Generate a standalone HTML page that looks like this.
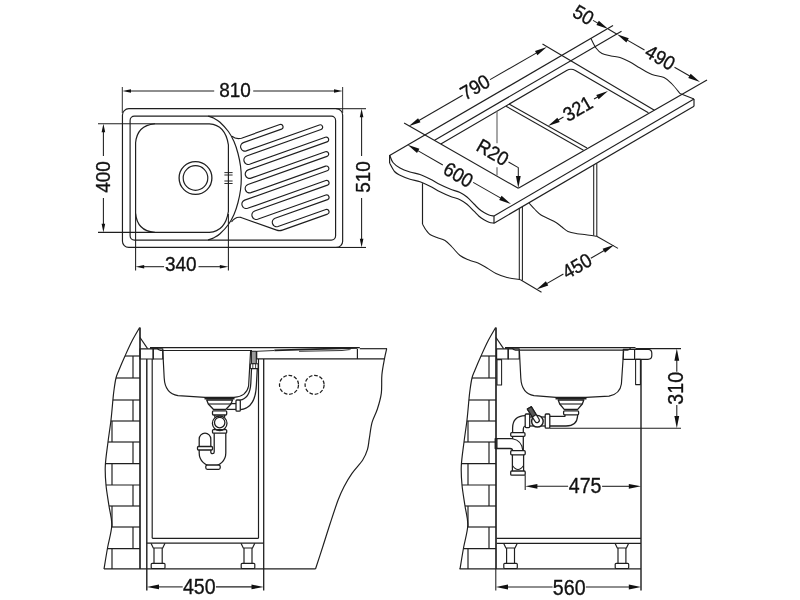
<!DOCTYPE html>
<html><head><meta charset="utf-8"><title>Sink dimensions</title>
<style>
html,body{margin:0;padding:0;background:#fff;}
body{width:800px;height:600px;overflow:hidden;font-family:"Liberation Sans",sans-serif;}
svg{display:block;filter:grayscale(1);}
svg text{font-family:"Liberation Sans",sans-serif;}
</style></head><body>
<svg width="800" height="600" viewBox="0 0 800 600" stroke-linecap="butt" stroke-linejoin="round">
<rect x="0" y="0" width="800" height="600" fill="#fff"/>
<g id="plan">
<rect x="122.45" y="108.7" width="220.2" height="138.75" rx="6.3" ry="6.3" stroke="#1f1f1f" stroke-width="1.18" fill="none"/>
<rect x="130.1" y="116.1" width="205.5" height="124" rx="4.3" ry="4.3" stroke="#1f1f1f" stroke-width="1.18" fill="none"/>
<path d="M154.6,123.8 L209.4,123.8 Q225.4,124.8 228.4,144.8 L228.4,211.4 Q225.4,231.4 209.4,232.4 L154.6,232.4 Q137.1,230.9 135.6,213.4 L135.6,142.8 Q137.1,125.3 154.6,123.8 Z" stroke="#1f1f1f" stroke-width="1.18" fill="none" />
<path d="M208,116 C209,116.38 212,117.27 214,118.3 C216,119.33 217.6,120 220,122.2 C222.4,124.4 226.07,128.28 228.4,131.5 C230.73,134.72 232.4,137.83 234,141.5 C235.6,145.17 236.92,149.42 238,153.5 C239.08,157.58 239.95,161.92 240.5,166 C241.05,170.08 241.3,174 241.3,178 C241.3,182 241.05,185.92 240.5,190 C239.95,194.08 239.08,198.42 238,202.5 C236.92,206.58 235.6,210.83 234,214.5 C232.4,218.17 230.73,221.28 228.4,224.5 C226.07,227.72 222.4,231.6 220,233.8 C217.6,236 216,236.67 214,237.7 C212,238.73 209,239.62 208,240" stroke="#1f1f1f" stroke-width="1.18" fill="none" />
<circle cx="195.5" cy="178" r="16.4" stroke="#1f1f1f" stroke-width="1.3" fill="none" />
<circle cx="195.5" cy="178" r="12.3" stroke="#1f1f1f" stroke-width="1.18" fill="none" />
<line x1="224.4" y1="172.6" x2="232.6" y2="172.6" stroke="#1f1f1f" stroke-width="0.94" />
<line x1="224.4" y1="175" x2="232.6" y2="175" stroke="#1f1f1f" stroke-width="0.94" />
<line x1="224.4" y1="181" x2="232.6" y2="181" stroke="#1f1f1f" stroke-width="0.94" />
<line x1="224.4" y1="183.5" x2="232.6" y2="183.5" stroke="#1f1f1f" stroke-width="0.94" />
<path d="M232,136.3 Q236,139.6 241.5,138.2 L279.87,124.5 A2.45,2.45 0 0 1 281.51,129.11 L243.36,142.66 A4.37,4.37 0 0 0 246.28,150.89 L319.37,124.94 A2.45,2.45 0 0 1 321.01,129.56 L246.66,155.96 A4.37,4.37 0 0 0 249.58,164.19 L325.37,137.28 A2.45,2.45 0 0 1 327.01,141.9 L248.16,169.89 A4.37,4.37 0 0 0 251.08,178.13 L325.37,151.75 A2.45,2.45 0 0 1 327.01,156.37 L247.96,184.44 A4.37,4.37 0 0 0 250.88,192.67 L325.57,166.15 A2.45,2.45 0 0 1 327.21,170.77 L244.66,200.08 A4.37,4.37 0 0 0 247.58,208.31 L325.87,180.52 A2.45,2.45 0 0 1 327.51,185.13 L254.66,211 A4.37,4.37 0 0 0 257.58,219.23 L325.87,194.99 A2.45,2.45 0 0 1 327.51,199.6 L275.06,218.23 A4.37,4.37 0 0 0 277.98,226.46 L325.87,209.46 A2.45,2.45 0 0 1 327.51,214.07 L282.33,230.11 Q279.5,231.12 276.67,230.11 L241,217.45 Q235.5,216.2 231.5,222" stroke="#1f1f1f" stroke-width="1.18" fill="none" />
<line x1="122.3" y1="87" x2="122.3" y2="113" stroke="#1f1f1f" stroke-width="0.94" />
<line x1="342.65" y1="87" x2="342.65" y2="113" stroke="#1f1f1f" stroke-width="0.94" />
<line x1="129.28" y1="91" x2="214.2" y2="91" stroke="#1f1f1f" stroke-width="1.06" />
<line x1="253.2" y1="91" x2="335.72" y2="91" stroke="#1f1f1f" stroke-width="1.06" />
<polygon points="122.4,91 131,89.2 131,92.8" fill="#111"/>
<polygon points="342.6,91 334,92.8 334,89.2" fill="#111"/>
<text transform="translate(235,91) rotate(0) scale(0.925,1)" x="0" y="6.4" text-anchor="middle" font-size="20.5" letter-spacing="0" fill="#111" stroke="#111" stroke-width="0.35">810</text>
<line x1="336" y1="108.7" x2="366" y2="108.7" stroke="#1f1f1f" stroke-width="1.06" />
<line x1="336" y1="247.45" x2="366" y2="247.45" stroke="#1f1f1f" stroke-width="1.06" />
<line x1="361.6" y1="115.58" x2="361.6" y2="156" stroke="#1f1f1f" stroke-width="1.06" />
<line x1="361.6" y1="198" x2="361.6" y2="240.57" stroke="#1f1f1f" stroke-width="1.06" />
<polygon points="361.6,108.7 363.4,117.3 359.8,117.3" fill="#111"/>
<polygon points="361.6,247.45 359.8,238.85 363.4,238.85" fill="#111"/>
<text transform="translate(363.1,177) rotate(-90) scale(0.925,1)" x="0" y="6.4" text-anchor="middle" font-size="20.5" letter-spacing="0" fill="#111" stroke="#111" stroke-width="0.35">510</text>
<line x1="98" y1="123.7" x2="155" y2="123.7" stroke="#1f1f1f" stroke-width="1.06" />
<line x1="98" y1="232.4" x2="155" y2="232.4" stroke="#1f1f1f" stroke-width="1.06" />
<line x1="103.4" y1="130.58" x2="103.4" y2="156" stroke="#1f1f1f" stroke-width="1.06" />
<line x1="103.4" y1="198" x2="103.4" y2="225.52" stroke="#1f1f1f" stroke-width="1.06" />
<polygon points="103.4,123.7 105.2,132.3 101.6,132.3" fill="#111"/>
<polygon points="103.4,232.4 101.6,223.8 105.2,223.8" fill="#111"/>
<text transform="translate(103.4,177) rotate(-90) scale(0.925,1)" x="0" y="6.4" text-anchor="middle" font-size="20.5" letter-spacing="0" fill="#111" stroke="#111" stroke-width="0.35">400</text>
<line x1="135.6" y1="214" x2="135.6" y2="270.5" stroke="#1f1f1f" stroke-width="1.06" />
<line x1="228.4" y1="214" x2="228.4" y2="270.5" stroke="#1f1f1f" stroke-width="1.06" />
<line x1="142.48" y1="266.7" x2="164.1" y2="266.7" stroke="#1f1f1f" stroke-width="1.06" />
<line x1="198.5" y1="266.7" x2="221.52" y2="266.7" stroke="#1f1f1f" stroke-width="1.06" />
<polygon points="135.6,266.7 144.2,264.9 144.2,268.5" fill="#111"/>
<polygon points="228.4,266.7 219.8,268.5 219.8,264.9" fill="#111"/>
<text transform="translate(180.7,265) rotate(0) scale(0.925,1)" x="0" y="6.4" text-anchor="middle" font-size="20.5" letter-spacing="0" fill="#111" stroke="#111" stroke-width="0.35">340</text>
</g>
<g id="iso">
<line x1="389.6" y1="155.6" x2="613" y2="25.6" stroke="#1f1f1f" stroke-width="1.18" />
<path d="M591,38.6 C591.83,40.17 594.17,45.52 596,48 C597.83,50.48 599.5,52.17 602,53.5 C604.5,54.83 608,55.33 611,56 C614,56.67 616.83,56.5 620,57.5 C623.17,58.5 626.67,60.25 630,62 C633.33,63.75 636.33,65.92 640,68 C643.67,70.08 648,72.92 652,74.5 C656,76.08 660.67,75.92 664,77.5 C667.33,79.08 669.33,81.33 672,84 C674.67,86.67 678.67,91.92 680,93.5 L694,99" stroke="#1f1f1f" stroke-width="1.06" fill="none" />
<line x1="694" y1="99" x2="694" y2="106.3" stroke="#1f1f1f" stroke-width="1.18" />
<line x1="694" y1="99" x2="494" y2="216" stroke="#1f1f1f" stroke-width="1.18" />
<line x1="694" y1="106.3" x2="494" y2="223.2" stroke="#1f1f1f" stroke-width="1.18" />
<line x1="494" y1="216" x2="494" y2="223.2" stroke="#1f1f1f" stroke-width="1.18" />
<path d="M389.6,155 C390.17,156.25 391.27,160.33 393,162.5 C394.73,164.67 397.17,166.42 400,168 C402.83,169.58 406.67,170.92 410,172 C413.33,173.08 416.67,173.33 420,174.5 C423.33,175.67 426.67,177.33 430,179 C433.33,180.67 436.67,182.83 440,184.5 C443.33,186.17 446.67,187.67 450,189 C453.33,190.33 457.17,191.17 460,192.5 C462.83,193.83 464.67,195.08 467,197 C469.33,198.92 472,202 474,204 C476,206 477.33,207.58 479,209 C480.67,210.42 482.33,211.5 484,212.5 C485.67,213.5 487.33,214.42 489,215 C490.67,215.58 493.17,215.83 494,216" stroke="#1f1f1f" stroke-width="1.18" fill="none" />
<path d="M389.6,155 L389.6,163" stroke="#1f1f1f" stroke-width="1.18" fill="none" />
<path d="M389.6,163 C390.42,164.42 392.77,169.47 394.5,171.5 C396.23,173.53 397.42,173.92 400,175.2 C402.58,176.48 406.67,178.12 410,179.2 C413.33,180.28 416.67,180.53 420,181.7 C423.33,182.87 426.67,184.53 430,186.2 C433.33,187.87 436.67,190.03 440,191.7 C443.33,193.37 446.67,194.87 450,196.2 C453.33,197.53 457.17,198.37 460,199.7 C462.83,201.03 464.67,202.28 467,204.2 C469.33,206.12 472,209.2 474,211.2 C476,213.2 477.33,214.78 479,216.2 C480.67,217.62 482.33,218.7 484,219.7 C485.67,220.7 487.33,221.62 489,222.2 C490.67,222.78 493.17,223.03 494,223.2" stroke="#1f1f1f" stroke-width="1.18" fill="none" />
<line x1="404.1" y1="123.1" x2="518.3" y2="188.3" stroke="#1f1f1f" stroke-width="1.18" />
<line x1="434.6" y1="140.2" x2="621.5" y2="31.3" stroke="#1f1f1f" stroke-width="1.18" />
<line x1="542.5" y1="44" x2="654.4" y2="110.3" stroke="#1f1f1f" stroke-width="1.18" />
<line x1="518.3" y1="188.3" x2="707" y2="79.9" stroke="#1f1f1f" stroke-width="1.18" />
<path d="M440.8,144.1 L566.67,70.5 Q571,68 575.33,70.5 L648.4,112.8" stroke="#1f1f1f" stroke-width="1.18" fill="none" />
<line x1="509" y1="104" x2="587" y2="148" stroke="#1f1f1f" stroke-width="1.06" />
<line x1="506" y1="106.2" x2="583.5" y2="150.2" stroke="#1f1f1f" stroke-width="1.06" />
<line x1="497" y1="110.8" x2="497" y2="143.2" stroke="#6a6a6a" stroke-width="1.18" />
<line x1="497" y1="167.2" x2="497" y2="175.5" stroke="#6a6a6a" stroke-width="1.18" />
<line x1="422.5" y1="183.2" x2="422.5" y2="224" stroke="#1f1f1f" stroke-width="1.18" />
<path d="M422.5,224 C423.08,225 424.75,228.25 426,230 C427.25,231.75 428.17,233.25 430,234.5 C431.83,235.75 434.5,236.5 437,237.5 C439.5,238.5 442.5,238.92 445,240.5 C447.5,242.08 449.5,244.5 452,247 C454.5,249.5 457.17,253.33 460,255.5 C462.83,257.67 466,258.75 469,260 C472,261.25 475,261.67 478,263 C481,264.33 484,266.25 487,268 C490,269.75 492.67,271.92 496,273.5 C499.33,275.08 502.92,276.47 507,277.5 C511.08,278.53 518.25,279.33 520.5,279.7" stroke="#1f1f1f" stroke-width="1.06" fill="none" />
<line x1="519.3" y1="208.5" x2="519.3" y2="279.5" stroke="#1f1f1f" stroke-width="1.06" />
<line x1="522.4" y1="206.6" x2="522.4" y2="280.5" stroke="#1f1f1f" stroke-width="1.06" />
<path d="M529,203 C530,204.08 533,207.5 535,209.5 C537,211.5 538.83,213.5 541,215 C543.17,216.5 545.5,217.25 548,218.5 C550.5,219.75 553.67,221.08 556,222.5 C558.33,223.92 560,225.5 562,227 C564,228.5 565.5,230.38 568,231.5 C570.5,232.62 574,233.17 577,233.7 C580,234.23 582.72,234.28 586,234.7 C589.28,235.12 594.92,235.95 596.7,236.2" stroke="#1f1f1f" stroke-width="1.06" fill="none" />
<line x1="593.7" y1="165" x2="593.7" y2="235.6" stroke="#1f1f1f" stroke-width="1.06" />
<line x1="596.8" y1="163.2" x2="596.8" y2="236.4" stroke="#1f1f1f" stroke-width="1.06" />
<line x1="417.16" y1="121.44" x2="462.63" y2="95.33" stroke="#1f1f1f" stroke-width="1.06" />
<line x1="490.03" y1="79.6" x2="538.34" y2="51.86" stroke="#1f1f1f" stroke-width="1.06" />
<polygon points="408.7,126.3 418.08,118.14 420.47,122.31" fill="#111"/>
<polygon points="546.8,47 537.42,55.16 535.03,50.99" fill="#111"/>
<text transform="translate(475.2,87.5) rotate(-30) scale(0.925,1)" x="0" y="6.4" text-anchor="middle" font-size="19.8" letter-spacing="0" fill="#111" stroke="#111" stroke-width="0.35">790</text>
<line x1="593" y1="20.4" x2="603" y2="26.1" stroke="#1f1f1f" stroke-width="1.06" />
<polygon points="608.2,29 596.43,24.98 598.83,20.82" fill="#111"/>
<text transform="translate(583.2,15.2) rotate(30) scale(0.925,1)" x="0" y="6.4" text-anchor="middle" font-size="19.8" letter-spacing="0" fill="#111" stroke="#111" stroke-width="0.35">50</text>
<polygon points="617,34.2 628.77,38.22 626.37,42.38" fill="#111"/>
<line x1="608.2" y1="29" x2="617" y2="34.2" stroke="#1f1f1f" stroke-width="1.06" />
<line x1="626" y1="39.4" x2="644.5" y2="50" stroke="#1f1f1f" stroke-width="1.06" />
<text transform="translate(660,57.9) rotate(30) scale(0.925,1)" x="0" y="6.4" text-anchor="middle" font-size="19.8" letter-spacing="0" fill="#111" stroke="#111" stroke-width="0.35">490</text>
<line x1="674.5" y1="67.2" x2="691" y2="76.7" stroke="#1f1f1f" stroke-width="1.06" />
<polygon points="700,81.9 688.23,77.88 690.63,73.72" fill="#111"/>
<line x1="416.07" y1="149.65" x2="442.8" y2="164.95" stroke="#1f1f1f" stroke-width="1.06" />
<line x1="473.17" y1="182.34" x2="502.53" y2="199.15" stroke="#1f1f1f" stroke-width="1.06" />
<polygon points="407.6,144.8 419.38,148.78 417,152.94" fill="#111"/>
<polygon points="511,204 499.22,200.02 501.6,195.86" fill="#111"/>
<text transform="translate(458.1,175.2) rotate(30) scale(0.925,1)" x="0" y="6.4" text-anchor="middle" font-size="19.8" letter-spacing="0" fill="#111" stroke="#111" stroke-width="0.35">600</text>
<text transform="translate(492.5,152.6) rotate(30) scale(0.925,1)" x="0" y="6.4" text-anchor="middle" font-size="19.6" letter-spacing="0" fill="#111" stroke="#111" stroke-width="0.35">R20</text>
<path d="M508.5,162 L518.3,167.6 L518.3,179" stroke="#1f1f1f" stroke-width="1.06" fill="none" />
<polygon points="518.3,188.1 515.9,175.9 520.7,175.9" fill="#111"/>
<polygon points="608,91 598.63,99.18 596.23,95.02" fill="#111"/>
<line x1="594" y1="99" x2="599" y2="96.2" stroke="#1f1f1f" stroke-width="1.06" />
<polygon points="548,126 557.37,117.82 559.77,121.98" fill="#111"/>
<line x1="557" y1="120.8" x2="563.5" y2="117" stroke="#1f1f1f" stroke-width="1.06" />
<text transform="translate(578,109) rotate(-30) scale(0.925,1)" x="0" y="6.4" text-anchor="middle" font-size="19.8" letter-spacing="0" fill="#111" stroke="#111" stroke-width="0.35">321</text>
<line x1="520.5" y1="279.7" x2="541.5" y2="292.2" stroke="#1f1f1f" stroke-width="1.06" />
<line x1="596.7" y1="236.2" x2="618" y2="248.4" stroke="#1f1f1f" stroke-width="1.06" />
<line x1="544.96" y1="284.63" x2="563.41" y2="274.02" stroke="#1f1f1f" stroke-width="1.06" />
<line x1="590.81" y1="258.27" x2="605.94" y2="249.57" stroke="#1f1f1f" stroke-width="1.06" />
<polygon points="536.5,289.5 545.88,281.34 548.27,285.5" fill="#111"/>
<polygon points="614.4,244.7 605.02,252.86 602.63,248.7" fill="#111"/>
<text transform="translate(577.2,266.3) rotate(-30) scale(0.925,1)" x="0" y="6.4" text-anchor="middle" font-size="19.8" letter-spacing="0" fill="#111" stroke="#111" stroke-width="0.35">450</text>
</g>
<g id="bl">
<line x1="140" y1="327.6" x2="140" y2="569" stroke="#1f1f1f" stroke-width="1.65" />
<path d="M139.6,327.6 C138.33,329.83 134.43,336.27 132,341 C129.57,345.73 127.17,351.17 125,356 C122.83,360.83 120.5,366.33 119,370 C117.5,373.67 116.83,374.67 116,378 C115.17,381.33 114.5,386.5 114,390 C113.5,393.5 113.5,394 113,399 C112.5,404 111.83,412.83 111,420 C110.17,427.17 108.95,434.33 108,442 C107.05,449.67 105.63,458.83 105.3,466 C104.97,473.17 105.38,478.33 106,485 C106.62,491.67 108.03,499.33 109,506 C109.97,512.67 112.03,518.08 111.8,525 C111.57,531.92 108.9,540.17 107.6,547.5 C106.3,554.83 104.6,565.42 104,569" stroke="#1f1f1f" stroke-width="1.18" fill="none" />
<line x1="125" y1="356" x2="140" y2="356" stroke="#1f1f1f" stroke-width="1.18" />
<line x1="116" y1="378" x2="140" y2="378" stroke="#1f1f1f" stroke-width="1.18" />
<line x1="112.9" y1="400" x2="140" y2="400" stroke="#1f1f1f" stroke-width="1.18" />
<line x1="110.86" y1="421" x2="140" y2="421" stroke="#1f1f1f" stroke-width="1.18" />
<line x1="108" y1="442" x2="140" y2="442" stroke="#1f1f1f" stroke-width="1.18" />
<line x1="105.57" y1="463.6" x2="140" y2="463.6" stroke="#1f1f1f" stroke-width="1.18" />
<line x1="106" y1="485" x2="140" y2="485" stroke="#1f1f1f" stroke-width="1.18" />
<line x1="109" y1="506" x2="140" y2="506" stroke="#1f1f1f" stroke-width="1.18" />
<line x1="111.43" y1="527" x2="140" y2="527" stroke="#1f1f1f" stroke-width="1.18" />
<line x1="107.42" y1="548.6" x2="140" y2="548.6" stroke="#1f1f1f" stroke-width="1.18" />
<line x1="133" y1="356" x2="133" y2="378" stroke="#1f1f1f" stroke-width="1.18" />
<line x1="133" y1="400" x2="133" y2="421" stroke="#1f1f1f" stroke-width="1.18" />
<line x1="112" y1="421" x2="112" y2="442" stroke="#1f1f1f" stroke-width="1.18" />
<line x1="133" y1="442" x2="133" y2="463.6" stroke="#1f1f1f" stroke-width="1.18" />
<line x1="112" y1="463.6" x2="112" y2="485" stroke="#1f1f1f" stroke-width="1.18" />
<line x1="133" y1="485" x2="133" y2="506" stroke="#1f1f1f" stroke-width="1.18" />
<line x1="112" y1="506" x2="112" y2="527" stroke="#1f1f1f" stroke-width="1.18" />
<line x1="133" y1="527" x2="133" y2="548.6" stroke="#1f1f1f" stroke-width="1.18" />
<line x1="112" y1="548.6" x2="112" y2="569" stroke="#1f1f1f" stroke-width="1.18" />
<line x1="140" y1="337.5" x2="147.6" y2="348.6" stroke="#1f1f1f" stroke-width="1.18" />
<line x1="104" y1="568.8" x2="315.5" y2="568.8" stroke="#1f1f1f" stroke-width="1.18" />
<rect x="140" y="348.8" width="13.2" height="10.2" rx="0" ry="0" stroke="#1f1f1f" stroke-width="1.18" fill="none"/>
<rect x="153.2" y="348.8" width="9.6" height="10.2" rx="0" ry="0" stroke="#1f1f1f" stroke-width="1.18" fill="none"/>
<path d="M150,347.6 L359.8,347.6" stroke="#1f1f1f" stroke-width="1.3" fill="none" />
<path d="M150,347.6 L157,347.9 Q158.5,350.3 160.5,350.5 L252,350.5" stroke="#1f1f1f" stroke-width="1.18" fill="none" />
<line x1="150" y1="347.9" x2="157" y2="347.9" stroke="#1f1f1f" stroke-width="1.65" />
<path d="M162.8,351 L164.2,378 Q165,393.5 178,395.6 L205,397.4 L234,397.4 Q246.5,396.5 248.6,386 L250.6,351" stroke="#1f1f1f" stroke-width="1.18" fill="none" />
<path d="M251.5,368.6 L250.8,383.5 Q250,398.5 239.8,400.2" stroke="#1f1f1f" stroke-width="1.27" fill="none" />
<path d="M257.3,368.6 L256.4,385 Q255.5,408 240.6,409.6" stroke="#1f1f1f" stroke-width="1.27" fill="none" />
<rect x="251.4" y="351.2" width="4.9" height="12.4" rx="0" ry="0" stroke="#1f1f1f" stroke-width="1.06" fill="#9a9a9a"/>
<rect x="250.3" y="363.8" width="7.9" height="4.8" rx="0.8" ry="0.8" stroke="#1f1f1f" stroke-width="1.12" fill="#fff"/>
<line x1="252.8" y1="364" x2="252.8" y2="368.4" stroke="#1f1f1f" stroke-width="0.83" />
<line x1="255.6" y1="364" x2="255.6" y2="368.4" stroke="#1f1f1f" stroke-width="0.83" />
<rect x="236" y="400" width="4.3" height="11.2" rx="1" ry="1" stroke="#1f1f1f" stroke-width="1.27" fill="none"/>
<line x1="230.5" y1="403.6" x2="236" y2="403.6" stroke="#1f1f1f" stroke-width="1.27" />
<line x1="227" y1="409.4" x2="236" y2="409.4" stroke="#1f1f1f" stroke-width="1.27" />
<line x1="204.5" y1="398.3" x2="234.5" y2="398.3" stroke="#1f1f1f" stroke-width="2.36" />
<path d="M206.7,400 L232.5,400 L231,404 L226,409.3 L213.3,409.3 L208.3,404 Z" stroke="#1f1f1f" stroke-width="1.27" fill="none" />
<line x1="208.3" y1="404" x2="231" y2="404" stroke="#1f1f1f" stroke-width="1.12" />
<rect x="212.5" y="410.8" width="14.2" height="4.2" rx="1" ry="1" stroke="#1f1f1f" stroke-width="1.27" fill="none"/>
<path d="M214.8,415 L214.8,417.5 M224.6,415 L224.6,417.5" stroke="#1f1f1f" stroke-width="1.27" fill="none" />
<circle cx="219.7" cy="423.3" r="7.3" stroke="#1f1f1f" stroke-width="1.27" fill="none" />
<circle cx="219.7" cy="422.6" r="5.2" stroke="#1f1f1f" stroke-width="1.27" fill="none" />
<rect x="212.5" y="429.6" width="14.2" height="3.6" rx="1" ry="1" stroke="#1f1f1f" stroke-width="1.27" fill="none"/>
<path d="M225.8,433.2 L225.8,453 A13.3,13.3 0 0 1 199.2,453 L199.2,439 A5.8,5.8 0 0 1 210.8,439 L210.8,452 A1.7,1.7 0 0 0 214.2,452 L214.2,433.2" stroke="#1f1f1f" stroke-width="1.27" fill="none" />
<rect x="197.5" y="446.5" width="15" height="3.5" rx="1" ry="1" stroke="#1f1f1f" stroke-width="1.27" fill="#fff"/>
<rect x="205.8" y="465" width="14.4" height="4.3" rx="1.5" ry="1.5" stroke="#1f1f1f" stroke-width="1.27" fill="#fff"/>
<line x1="146.8" y1="359" x2="146.8" y2="590.5" stroke="#1f1f1f" stroke-width="1.42" />
<line x1="152.2" y1="359" x2="152.2" y2="538.3" stroke="#1f1f1f" stroke-width="1.18" />
<line x1="258.5" y1="359" x2="258.5" y2="538.3" stroke="#1f1f1f" stroke-width="1.18" />
<line x1="263.7" y1="359" x2="263.7" y2="590.5" stroke="#1f1f1f" stroke-width="1.3" />
<line x1="152.2" y1="538.3" x2="258.5" y2="538.3" stroke="#1f1f1f" stroke-width="1.18" />
<line x1="146.8" y1="543.2" x2="263.7" y2="543.2" stroke="#1f1f1f" stroke-width="1.18" />
<path d="M151,543.3 L153.3,548 L162.7,548 L165,543.3" stroke="#1f1f1f" stroke-width="1.18" fill="none" />
<line x1="154" y1="548" x2="154" y2="563.3" stroke="#1f1f1f" stroke-width="1.18" />
<line x1="162.2" y1="548" x2="162.2" y2="563.3" stroke="#1f1f1f" stroke-width="1.18" />
<rect x="151.2" y="563.3" width="13.8" height="5.2" rx="1" ry="1" stroke="#1f1f1f" stroke-width="1.18" fill="none"/>
<path d="M241,543.3 L243.3,548 L252.5,548 L254.8,543.3" stroke="#1f1f1f" stroke-width="1.18" fill="none" />
<line x1="244" y1="548" x2="244" y2="563.3" stroke="#1f1f1f" stroke-width="1.18" />
<line x1="252" y1="548" x2="252" y2="563.3" stroke="#1f1f1f" stroke-width="1.18" />
<rect x="241.2" y="563.3" width="13.6" height="5.2" rx="1" ry="1" stroke="#1f1f1f" stroke-width="1.18" fill="none"/>
<path d="M256.7,351 L256.7,358.9 L384.8,358.9" stroke="#1f1f1f" stroke-width="1.18" fill="none" />
<line x1="359.8" y1="348.7" x2="387" y2="348.7" stroke="#1f1f1f" stroke-width="1.18" />
<line x1="357.4" y1="348.7" x2="357.4" y2="358.9" stroke="#1f1f1f" stroke-width="1.18" />
<path d="M256.6,351.3 L274.4,350.5" stroke="#1f1f1f" stroke-width="0.94" fill="none" />
<line x1="274.4" y1="350.45" x2="357.2" y2="347.95" stroke="#1f1f1f" stroke-width="1.83" />
<line x1="299" y1="351.3" x2="342" y2="350.5" stroke="#1f1f1f" stroke-width="0.89" />
<path d="M342,350.5 L349.5,349.6 L351,348.6" stroke="#1f1f1f" stroke-width="0.89" fill="none" />
<path d="M386.7,348.7 C386.33,350.37 385.3,354.37 384.5,358.7 C383.7,363.03 382.43,368.93 381.9,374.7 C381.37,380.47 382.07,387.53 381.3,393.3 C380.53,399.07 378.85,404.4 377.3,409.3 C375.75,414.2 373.33,417.8 372,422.7 C370.67,427.6 370.05,434.27 369.3,438.7 C368.55,443.13 368.6,445.75 367.5,449.3 C366.4,452.85 365.28,456 362.7,460 C360.12,464 355.12,468.85 352,473.3 C348.88,477.75 346.32,482.25 344,486.7 C341.68,491.15 340.43,493.78 338.1,500 C335.77,506.22 332.52,516.33 330,524 C327.48,531.67 325.42,538.5 323,546 C320.58,553.5 316.75,565.17 315.5,569" stroke="#1f1f1f" stroke-width="1.18" fill="none" />
<circle cx="289" cy="384.8" r="9.5" stroke="#1f1f1f" stroke-width="1.24" fill="none" stroke-dasharray="3.7 1.8"/>
<circle cx="314.6" cy="384.8" r="9.5" stroke="#1f1f1f" stroke-width="1.24" fill="none" stroke-dasharray="3.7 1.8"/>
<line x1="156.56" y1="586.9" x2="182.7" y2="586.9" stroke="#1f1f1f" stroke-width="1.06" />
<line x1="215.9" y1="586.9" x2="253.94" y2="586.9" stroke="#1f1f1f" stroke-width="1.06" />
<polygon points="146.8,586.9 159,584.5 159,589.3" fill="#111"/>
<polygon points="263.7,586.9 251.5,589.3 251.5,584.5" fill="#111"/>
<text transform="translate(199.3,587.8) rotate(0) scale(0.925,1)" x="0" y="6.4" text-anchor="middle" font-size="21.2" letter-spacing="0" fill="#111" stroke="#111" stroke-width="0.35">450</text>
</g>
<g id="br">
<line x1="496" y1="327.6" x2="496" y2="569" stroke="#1f1f1f" stroke-width="1.65" />
<path d="M495.6,327.6 C494.33,329.83 490.43,336.27 488,341 C485.57,345.73 483.17,351.17 481,356 C478.83,360.83 476.5,366.33 475,370 C473.5,373.67 472.83,374.67 472,378 C471.17,381.33 470.5,386.5 470,390 C469.5,393.5 469.5,394 469,399 C468.5,404 467.83,412.83 467,420 C466.17,427.17 464.95,434.33 464,442 C463.05,449.67 461.63,458.83 461.3,466 C460.97,473.17 461.38,478.33 462,485 C462.62,491.67 464.03,499.33 465,506 C465.97,512.67 468.03,518.08 467.8,525 C467.57,531.92 464.9,540.17 463.6,547.5 C462.3,554.83 460.6,565.42 460,569" stroke="#1f1f1f" stroke-width="1.18" fill="none" />
<line x1="481" y1="356" x2="496" y2="356" stroke="#1f1f1f" stroke-width="1.18" />
<line x1="472" y1="378" x2="496" y2="378" stroke="#1f1f1f" stroke-width="1.18" />
<line x1="468.9" y1="400" x2="496" y2="400" stroke="#1f1f1f" stroke-width="1.18" />
<line x1="466.86" y1="421" x2="496" y2="421" stroke="#1f1f1f" stroke-width="1.18" />
<line x1="464" y1="442" x2="496" y2="442" stroke="#1f1f1f" stroke-width="1.18" />
<line x1="461.57" y1="463.6" x2="496" y2="463.6" stroke="#1f1f1f" stroke-width="1.18" />
<line x1="462" y1="485" x2="496" y2="485" stroke="#1f1f1f" stroke-width="1.18" />
<line x1="465" y1="506" x2="496" y2="506" stroke="#1f1f1f" stroke-width="1.18" />
<line x1="467.43" y1="527" x2="496" y2="527" stroke="#1f1f1f" stroke-width="1.18" />
<line x1="463.42" y1="548.6" x2="496" y2="548.6" stroke="#1f1f1f" stroke-width="1.18" />
<line x1="489" y1="356" x2="489" y2="378" stroke="#1f1f1f" stroke-width="1.18" />
<line x1="489" y1="400" x2="489" y2="421" stroke="#1f1f1f" stroke-width="1.18" />
<line x1="468" y1="421" x2="468" y2="442" stroke="#1f1f1f" stroke-width="1.18" />
<line x1="489" y1="442" x2="489" y2="463.6" stroke="#1f1f1f" stroke-width="1.18" />
<line x1="468" y1="463.6" x2="468" y2="485" stroke="#1f1f1f" stroke-width="1.18" />
<line x1="489" y1="485" x2="489" y2="506" stroke="#1f1f1f" stroke-width="1.18" />
<line x1="468" y1="506" x2="468" y2="527" stroke="#1f1f1f" stroke-width="1.18" />
<line x1="489" y1="527" x2="489" y2="548.6" stroke="#1f1f1f" stroke-width="1.18" />
<line x1="468" y1="548.6" x2="468" y2="569" stroke="#1f1f1f" stroke-width="1.18" />
<line x1="496" y1="337.5" x2="503.6" y2="348.6" stroke="#1f1f1f" stroke-width="1.18" />
<line x1="459.5" y1="568.8" x2="641" y2="568.8" stroke="#1f1f1f" stroke-width="1.18" />
<rect x="496.6" y="348.8" width="11.6" height="10.2" rx="0" ry="0" stroke="#1f1f1f" stroke-width="1.18" fill="none"/>
<rect x="508.2" y="348.8" width="11" height="10.2" rx="0" ry="0" stroke="#1f1f1f" stroke-width="1.18" fill="none"/>
<rect x="497" y="359.6" width="4.6" height="25.4" rx="0" ry="0" stroke="#1f1f1f" stroke-width="1.06" fill="none"/>
<path d="M505,347.6 L635.5,347.6" stroke="#1f1f1f" stroke-width="1.3" fill="none" />
<line x1="505" y1="347.9" x2="512" y2="347.9" stroke="#1f1f1f" stroke-width="1.65" />
<path d="M512,347.9 Q513.5,350.1 515.5,350.2 L627.5,350.2 Q629.5,350 630.5,347.9" stroke="#1f1f1f" stroke-width="1.18" fill="none" />
<line x1="635.5" y1="348.6" x2="681" y2="348.6" stroke="#1f1f1f" stroke-width="1.06" />
<path d="M519.4,351 L520.8,378 Q521.6,393.5 534,395.6 L556,397.4 L586,397.4 L609,396.2 Q620,394 621.4,384 L623.6,351" stroke="#1f1f1f" stroke-width="1.18" fill="none" />
<rect x="623.3" y="349.3" width="11.3" height="10" rx="0" ry="0" stroke="#1f1f1f" stroke-width="1.18" fill="none"/>
<path d="M634.6,349.3 L648.5,349.3 Q651.8,349.8 651.8,353 L651.8,356 Q651.5,359.3 648,359.3 L634.6,359.3" stroke="#1f1f1f" stroke-width="1.18" fill="none" />
<rect x="635.6" y="359.3" width="4.8" height="25.3" rx="0" ry="0" stroke="#1f1f1f" stroke-width="1.06" fill="none"/>
<line x1="641" y1="359.3" x2="641" y2="590.5" stroke="#1f1f1f" stroke-width="1.42" />
<line x1="555.5" y1="398.3" x2="586.5" y2="398.3" stroke="#1f1f1f" stroke-width="2.36" />
<path d="M558.2,400 L583.8,400 L582.3,404 L577.7,409.4 L564.2,409.4 L559.7,404 Z" stroke="#1f1f1f" stroke-width="1.27" fill="none" />
<line x1="559.7" y1="404" x2="582.3" y2="404" stroke="#1f1f1f" stroke-width="1.12" />
<rect x="563.6" y="410.8" width="15" height="4" rx="1" ry="1" stroke="#1f1f1f" stroke-width="1.27" fill="none"/>
<path d="M577.6,414.8 L577.6,416 Q577,426 566,426 L549.8,426" stroke="#1f1f1f" stroke-width="1.27" fill="none" />
<path d="M565,414.8 L565,416.3 L549.8,416.3" stroke="#1f1f1f" stroke-width="1.27" fill="none" />
<rect x="545.2" y="414" width="4.6" height="14.2" rx="1" ry="1" stroke="#1f1f1f" stroke-width="1.27" fill="#fff"/>
<line x1="529.7" y1="417" x2="545.2" y2="417" stroke="#1f1f1f" stroke-width="1.27" />
<line x1="529.7" y1="426" x2="545.2" y2="426" stroke="#1f1f1f" stroke-width="1.27" />
<circle cx="537.4" cy="421.3" r="5.8" stroke="#1f1f1f" stroke-width="1.47" fill="#fff" />
<rect x="525.2" y="414" width="4.5" height="13.6" rx="1" ry="1" stroke="#1f1f1f" stroke-width="1.27" fill="#fff"/>
<path d="M527.35,409.12 L535.05,421.42 A2.3,2.3 0 0 0 538.95,418.97 L531.25,406.68 Z" stroke="#1f1f1f" stroke-width="1.18" fill="#fff" />
<path d="M527.35,409.12 L532.29,417.01 L536.19,414.57 L531.25,406.68 Z" stroke="#1f1f1f" stroke-width="1.18" fill="#585858" />
<path d="M525.2,415.6 Q512.6,416 512.6,428 L512.6,432.7" stroke="#1f1f1f" stroke-width="1.27" fill="none" />
<path d="M525.2,426 Q523.3,426.5 523.3,429 L523.3,432.7" stroke="#1f1f1f" stroke-width="1.27" fill="none" />
<rect x="510.7" y="432.7" width="14.3" height="3.6" rx="1" ry="1" stroke="#1f1f1f" stroke-width="1.27" fill="none"/>
<path d="M523.3,436.3 L523.3,450.7 M512.6,436.3 L512.6,438.7 L496.8,438.7 M496.8,448.5 L510,448.5 Q512.6,448.6 512.6,450.7" stroke="#1f1f1f" stroke-width="1.27" fill="none" />
<path d="M512.6,438.7 Q522,440.5 522.8,450.5" stroke="#1f1f1f" stroke-width="1.12" fill="none" />
<rect x="495.2" y="438.7" width="1.7" height="9.8" rx="0" ry="0" stroke="#1f1f1f" stroke-width="1.27" fill="none"/>
<rect x="510.7" y="450.7" width="14.5" height="4.1" rx="1" ry="1" stroke="#1f1f1f" stroke-width="1.27" fill="none"/>
<path d="M512.4,454.8 L512.4,471 M523.6,454.8 L523.6,471" stroke="#1f1f1f" stroke-width="1.27" fill="none" />
<path d="M512.4,465.5 Q518,473.5 523.6,465.5" stroke="#1f1f1f" stroke-width="1.12" fill="none" />
<rect x="510.7" y="471" width="14.5" height="4.2" rx="1" ry="1" stroke="#1f1f1f" stroke-width="1.27" fill="none"/>
<line x1="496.6" y1="538.4" x2="641" y2="538.4" stroke="#1f1f1f" stroke-width="1.18" />
<line x1="496.6" y1="543.3" x2="641" y2="543.3" stroke="#1f1f1f" stroke-width="1.18" />
<path d="M503.6,543.3 L505.9,548 L515,548 L517.3,543.3" stroke="#1f1f1f" stroke-width="1.18" fill="none" />
<line x1="506.6" y1="548" x2="506.6" y2="563.3" stroke="#1f1f1f" stroke-width="1.18" />
<line x1="514.5" y1="548" x2="514.5" y2="563.3" stroke="#1f1f1f" stroke-width="1.18" />
<rect x="503.8" y="563.3" width="13.5" height="5.2" rx="1" ry="1" stroke="#1f1f1f" stroke-width="1.18" fill="none"/>
<path d="M615,543.3 L617.3,548 L626.4,548 L628.7,543.3" stroke="#1f1f1f" stroke-width="1.18" fill="none" />
<line x1="618" y1="548" x2="618" y2="563.3" stroke="#1f1f1f" stroke-width="1.18" />
<line x1="625.9" y1="548" x2="625.9" y2="563.3" stroke="#1f1f1f" stroke-width="1.18" />
<rect x="615.2" y="563.3" width="13.5" height="5.2" rx="1" ry="1" stroke="#1f1f1f" stroke-width="1.18" fill="none"/>
<line x1="549.8" y1="428.3" x2="681" y2="428.3" stroke="#1f1f1f" stroke-width="1.06" />
<line x1="676.8" y1="358.36" x2="676.8" y2="371.7" stroke="#1f1f1f" stroke-width="1.06" />
<line x1="676.8" y1="404.9" x2="676.8" y2="418.54" stroke="#1f1f1f" stroke-width="1.06" />
<polygon points="676.8,348.6 679.2,360.8 674.4,360.8" fill="#111"/>
<polygon points="676.8,428.3 674.4,416.1 679.2,416.1" fill="#111"/>
<text transform="translate(676.8,388.3) rotate(-90) scale(0.925,1)" x="0" y="6.4" text-anchor="middle" font-size="21.2" letter-spacing="0" fill="#111" stroke="#111" stroke-width="0.35">310</text>
<line x1="525.2" y1="475.2" x2="525.2" y2="490" stroke="#1f1f1f" stroke-width="1.06" />
<line x1="534.96" y1="486.3" x2="568.1" y2="486.3" stroke="#1f1f1f" stroke-width="1.06" />
<line x1="602.1" y1="486.3" x2="631.24" y2="486.3" stroke="#1f1f1f" stroke-width="1.06" />
<polygon points="525.2,486.3 537.4,483.9 537.4,488.7" fill="#111"/>
<polygon points="641,486.3 628.8,488.7 628.8,483.9" fill="#111"/>
<text transform="translate(585.1,486.4) rotate(0) scale(0.925,1)" x="0" y="6.4" text-anchor="middle" font-size="21.2" letter-spacing="0" fill="#111" stroke="#111" stroke-width="0.35">475</text>
<line x1="495.8" y1="569" x2="495.8" y2="590.5" stroke="#1f1f1f" stroke-width="1.06" />
<line x1="505.56" y1="587" x2="552.6" y2="587" stroke="#1f1f1f" stroke-width="1.06" />
<line x1="585.8" y1="587" x2="631.24" y2="587" stroke="#1f1f1f" stroke-width="1.06" />
<polygon points="495.8,587 508,584.6 508,589.4" fill="#111"/>
<polygon points="641,587 628.8,589.4 628.8,584.6" fill="#111"/>
<text transform="translate(569.2,588.1) rotate(0) scale(0.925,1)" x="0" y="6.4" text-anchor="middle" font-size="21.2" letter-spacing="0" fill="#111" stroke="#111" stroke-width="0.35">560</text>
</g>
</svg>
</body></html>
